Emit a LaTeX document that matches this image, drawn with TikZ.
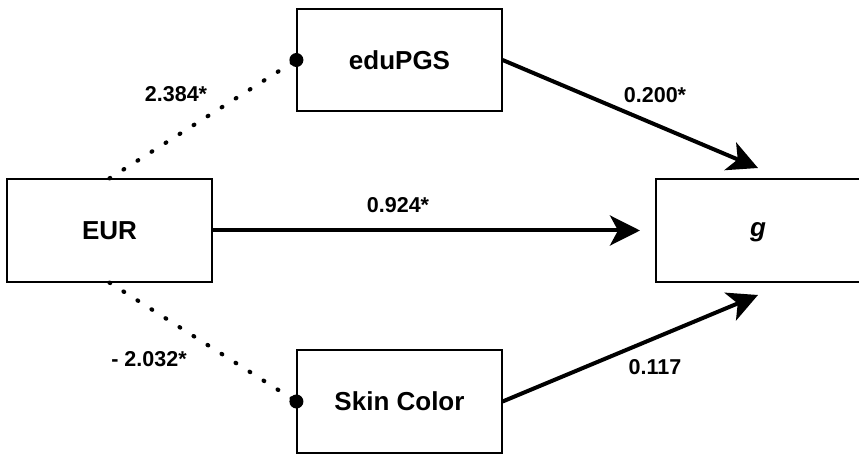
\documentclass[tikz,border=0pt]{standalone}
\usepackage{fontspec}
\setmainfont{Liberation Sans}
\usetikzlibrary{arrows.meta}
\begin{document}
\begin{tikzpicture}[x=1pt,y=-1pt,
  box/.style={draw=black, line width=1.2pt, minimum width=205pt, minimum height=103pt, inner sep=0pt,
    font=\fontsize{26}{30}\selectfont\bfseries},
  lbl/.style={inner sep=0pt, font=\fontsize{21.5}{25}\selectfont\bfseries},
  arr/.style={line width=4pt, -{Stealth[length=30pt,width=30pt,inset=8pt]}},
  dotline/.style={line width=4.2pt, dash pattern=on 0.8pt off 15.8pt, line cap=round},
]
\useasboundingbox (0,0) rectangle (859,454);
\node[box] (eur) at (109.5,230.5) {EUR};
\node[box, minimum height=102pt] (edu) at (399.5,60) {eduPGS};
\node[box] (skin) at (399.5,401.5) {Skin Color};
\node[box, minimum width=204pt, text height=13pt, text depth=0pt, font=\fontsize{26}{30}\selectfont\bfseries\itshape] (g) at (758,230.5) {g};
\coordinate (gtop) at (758,168);
\coordinate (gmid) at (640,230.5);
\coordinate (gbot) at (758,295);
\draw[arr] (edu.east) -- (gtop);
\draw[arr] (eur.east) -- (gmid);
\draw[arr] (skin.east) -- (gbot);
\draw[dotline] (eur.north) -- (edu.west);
\draw[dotline] (eur.south) -- (skin.west);
\fill (edu.west) circle (7pt);
\fill (skin.west) circle (7pt);
\node[lbl] (l1) at (176,94) {2.384*};
\node[lbl] (l2) at (655,95) {0.200*};
\node[lbl] (l3) at (398,205) {0.924*};
\node[lbl] (l4) at (149,359) {- 2.032*};
\node[lbl] (l5) at (655,367) {0.117};
\end{tikzpicture}
\end{document}
